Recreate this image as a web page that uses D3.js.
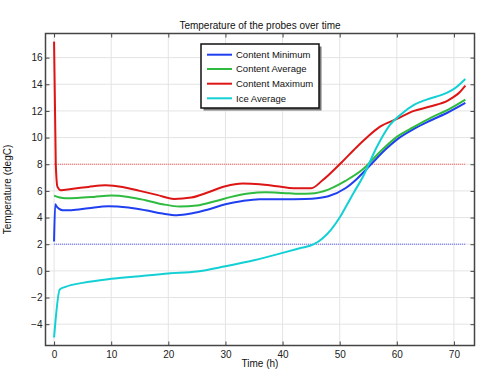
<!DOCTYPE html>
<html>
<head>
<meta charset="utf-8">
<script src="https://cdn.jsdelivr.net/npm/d3@7"></script>
<style>
  body { margin: 0; background: #fff; }
  svg { display: block; font-family: "Liberation Sans", Arial, sans-serif; }
</style>
</head>
<body>
<svg id="chart"></svg>
<script>
// data
const maxTime = [0, 0.3, 0.6, 1.2, 3, 6, 9, 12, 15, 18, 21, 24, 27, 30, 33, 36, 39, 42, 45, 47, 50, 53, 55, 57, 60, 63, 66, 69, 71, 72];
const maxTemp = [17.2, 8, 6.3, 6.05, 6.15, 6.3, 6.42, 6.3, 6.0, 5.7, 5.4, 5.5, 5.9, 6.35, 6.55, 6.5, 6.35, 6.2, 6.2, 6.8, 8.0, 9.3, 10.1, 10.8, 11.4, 12.0, 12.35, 12.8, 13.4, 13.9];

const avgTime = [0, 1, 2, 4, 7, 10, 13, 16, 19, 22, 25, 28, 31, 34, 37, 40, 43, 45, 48, 51, 54, 57, 60, 63, 66, 69, 72];
const avgTemp = [5.65, 5.5, 5.45, 5.47, 5.55, 5.65, 5.55, 5.3, 5.0, 4.83, 4.9, 5.2, 5.55, 5.8, 5.9, 5.85, 5.78, 5.8, 6.1, 6.75, 7.6, 8.9, 10.05, 10.8, 11.5, 12.1, 12.85];

const minTime = [0, 0.2, 0.5, 1.5, 3, 6, 9.5, 13, 16, 19, 21.5, 24, 27, 30, 33, 36, 40, 44, 46, 48, 51, 53, 55.5, 58, 60, 63, 66, 69, 72];
const minTemp = [2.2, 5.0, 4.8, 4.55, 4.55, 4.7, 4.85, 4.75, 4.55, 4.3, 4.18, 4.3, 4.6, 5.0, 5.25, 5.38, 5.38, 5.4, 5.45, 5.6, 6.2, 6.9, 8.0, 9.1, 9.85, 10.65, 11.3, 11.9, 12.6];

const iceTime = [0, 1, 2, 5, 10, 15, 20, 25, 30, 35, 40, 43, 45.5, 48.5, 50, 51.2, 52.5, 54, 56.5, 58.8, 60.6, 63, 65.2, 68.7, 70, 72];
const iceTemp = [-5, -1.4, -1.2, -0.9, -0.6, -0.4, -0.2, -0.05, 0.35, 0.8, 1.35, 1.7, 2.0, 3.1, 4.0, 4.9, 5.9, 7.0, 9.3, 10.95, 11.7, 12.45, 12.85, 13.35, 13.65, 14.4];

const seriesNames = ["Content Minimum", "Content Average", "Content Maximum", "Ice Average"];
const seriesColors = ["#1f3ff0", "#2fbb3f", "#dd1515", "#12d0d4"];
const limitTemps = [8, 2];
const limitColors = ["#ff5555", "#5555ff"];
const xTicks = [0, 10, 20, 30, 40, 50, 60, 70];
const yTicks = [-4, -2, 0, 2, 4, 6, 8, 10, 12, 14, 16];

const width = 498, height = 378;
const margin = { top: 33.5, right: 23.5, bottom: 32.5, left: 45.5 };

const svg = d3.select("#chart").attr("width", width).attr("height", height);

const x = d3.scaleLinear().domain([-1.5, 73.6]).range([margin.left, width - margin.right]);
const y = d3.scaleLinear().domain([-5.6, 17.81]).range([height - margin.bottom, margin.top]);

const series = [
  { name: seriesNames[0], color: seriesColors[0], t: minTime, v: minTemp },
  { name: seriesNames[1], color: seriesColors[1], t: avgTime, v: avgTemp },
  { name: seriesNames[2], color: seriesColors[2], t: maxTime, v: maxTemp },
  { name: seriesNames[3], color: seriesColors[3], t: iceTime, v: iceTemp },
];

// grid
const grid = svg.append("g");
grid.selectAll("line.gx").data(xTicks).join("line")
  .attr("x1", d => x(d)).attr("x2", d => x(d))
  .attr("y1", margin.top).attr("y2", height - margin.bottom)
  .attr("stroke", "#e4e4e4").attr("stroke-width", 1);
grid.selectAll("line.gy").data(yTicks).join("line")
  .attr("y1", d => y(d)).attr("y2", d => y(d))
  .attr("x1", margin.left).attr("x2", width - margin.right)
  .attr("stroke", "#e4e4e4").attr("stroke-width", 1);

// dotted limit lines
svg.append("g").selectAll("line").data(limitTemps).join("line")
  .attr("x1", x(0)).attr("x2", x(72))
  .attr("y1", d => y(d)).attr("y2", d => y(d))
  .attr("stroke", (d, i) => limitColors[i])
  .attr("stroke-width", 1)
  .attr("stroke-dasharray", "1,1");

// curves
const line = d3.line().curve(d3.curveMonotoneX);
svg.append("g").selectAll("path").data(series).join("path")
  .attr("d", s => line(s.t.map((t, i) => [x(t), y(s.v[i])])))
  .attr("fill", "none")
  .attr("stroke", s => s.color)
  .attr("stroke-width", 2)
  .attr("stroke-linejoin", "round");

// axes with inward ticks
const tickStyle = g => {
  g.select(".domain").remove();
  g.selectAll(".tick line").attr("stroke", "#444").attr("stroke-width", 1);
  g.selectAll(".tick text").attr("fill", "#222").style("font-size", "10px");
};
svg.append("g").attr("transform", `translate(0,${height - margin.bottom})`)
  .call(d3.axisBottom(x).tickValues(xTicks).tickSizeInner(-4).tickPadding(5))
  .call(tickStyle);
svg.append("g").attr("transform", `translate(0,${margin.top})`)
  .call(d3.axisTop(x).tickValues(xTicks).tickSizeInner(-4).tickFormat(""))
  .call(tickStyle);
svg.append("g").attr("transform", `translate(${margin.left},0)`)
  .call(d3.axisLeft(y).tickValues(yTicks).tickSizeInner(-4).tickPadding(3))
  .call(tickStyle);
svg.append("g").attr("transform", `translate(${width - margin.right},0)`)
  .call(d3.axisRight(y).tickValues(yTicks).tickSizeInner(-4).tickFormat(""))
  .call(tickStyle);

// frame
svg.append("rect")
  .attr("x", margin.left).attr("y", margin.top)
  .attr("width", width - margin.left - margin.right)
  .attr("height", height - margin.top - margin.bottom)
  .attr("fill", "none").attr("stroke", "#444").attr("stroke-width", 1.5);

// titles
svg.append("text").attr("x", (margin.left + width - margin.right) / 2).attr("y", 28.5)
  .attr("text-anchor", "middle").style("font-size", "10px").attr("fill", "#111")
  .text("Temperature of the probes over time");
svg.append("text").attr("x", (margin.left + width - margin.right) / 2).attr("y", 366.5)
  .attr("text-anchor", "middle").style("font-size", "10px").attr("fill", "#111")
  .text("Time (h)");
svg.append("text")
  .attr("transform", `translate(11,${(margin.top + height - margin.bottom) / 2}) rotate(-90)`)
  .attr("text-anchor", "middle").style("font-size", "10px").attr("fill", "#111")
  .text("Temperature (degC)");

// legend
const legend = svg.append("g").attr("transform", "translate(201,44)");
legend.append("rect").attr("x", 2.5).attr("y", 2.5).attr("width", 118).attr("height", 64)
  .attr("fill", "#777");
legend.append("rect").attr("width", 118).attr("height", 64)
  .attr("fill", "#fff").attr("stroke", "#111").attr("stroke-width", 1.5);
const entryY = [10.7, 25, 39.7, 54.3];
const entries = legend.selectAll("g.entry").data(series).join("g")
  .attr("transform", (d, i) => `translate(0,${entryY[i]})`);
entries.append("line").attr("x1", 6).attr("x2", 31)
  .attr("stroke", d => d.color).attr("stroke-width", 2);
entries.append("text").attr("x", 35).attr("dy", "0.35em")
  .style("font-size", "9.5px").attr("fill", "#111")
  .text(d => d.name);
</script>
</body>
</html>
